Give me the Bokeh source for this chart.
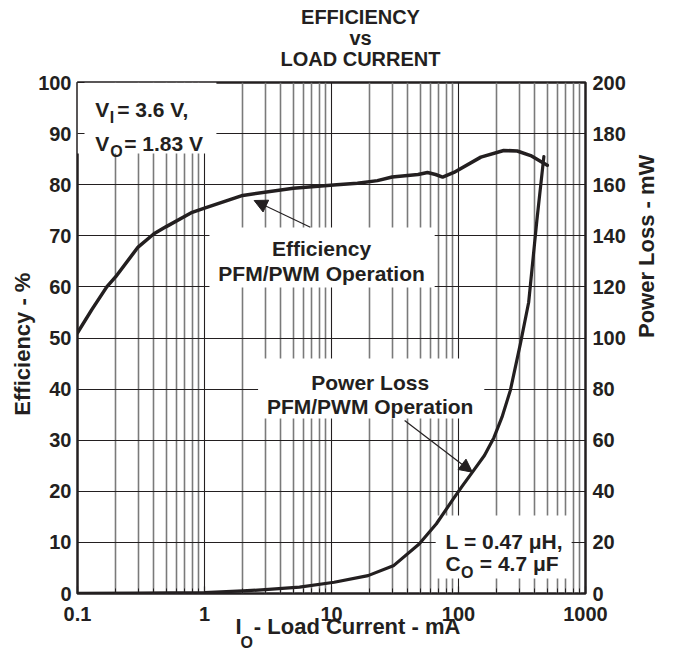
import math
from bokeh.plotting import figure
from bokeh.models import (Range1d, LinearAxis, FixedTicker, CustomJSTickFormatter,
                          Label, Arrow, NormalHead, Title)
from bokeh.embed import file_html
from bokeh.resources import INLINE

# ---------------- data ----------------
eff_current = [0.1, 0.13, 0.17, 0.2, 0.3, 0.4, 0.5, 0.8, 1.0, 2.0, 5.0, 11, 16, 23, 30, 48, 57, 66, 75, 92, 150, 227, 290, 370, 455, 500]
eff_pct = [51.0, 55.6, 60.0, 62.0, 67.8, 70.4, 71.8, 74.6, 75.4, 77.9, 79.3, 80.0, 80.3, 80.8, 81.5, 82.0, 82.4, 82.0, 81.5, 82.4, 85.4, 86.7, 86.6, 85.7, 84.4, 83.8]

pl_current = [0.1, 0.3, 1.0, 2.0, 3.0, 5.6, 10.5, 19.4, 31, 49, 67, 91, 107, 133, 160, 190, 220, 256, 307, 357, 414, 470]
pl_mw = [0.1, 0.2, 0.4, 1.0, 1.5, 2.5, 4.4, 7.0, 11.0, 19.4, 27.3, 37.0, 42.0, 48.5, 54.0, 61.0, 69.0, 79.5, 97.7, 114.0, 146.0, 171.0]

x_ticks = [0.1, 1, 10, 100, 1000]
x_minor = [m * d for d in x_ticks[:-1] for m in range(2, 10)]
eff_ticks = list(range(0, 101, 10))
pl_ticks = list(range(0, 201, 20))

title_lines = ["EFFICIENCY", "vs", "LOAD CURRENT"]
NB = "\u00a0"

# ---------------- layout (canvas px) ----------------
W, H = 674, 654
FL, FR, FT, FB = 77, 589, 82, 593
def X(px):
    return 10 ** ((px - FL) / ((FR - FL) / 4.0) - 1)
def Y(py):
    return (FB - py) / (FB - FT) * 100.0

INK = "#231f20"
FONT = "Liberation Sans"

p = figure(width=W, height=H, x_axis_type="log",
           x_range=Range1d(0.1, 1000), y_range=Range1d(0, 100),
           output_backend="svg", toolbar_location=None,
           min_border_left=FL, min_border_right=W - FR,
           min_border_top=FT, min_border_bottom=H - FB)
p.extra_y_ranges = {"pl": Range1d(0, 200)}
p.background_fill_color = "white"
p.border_fill_color = "white"
p.outline_line_color = INK
p.outline_line_width = 2.5

xt = FixedTicker(ticks=x_ticks, minor_ticks=x_minor)
fmt = CustomJSTickFormatter(code="return tick < 1 ? tick.toFixed(1) : tick.toFixed(0);")

def style_axis(ax, tin=7, standoff=6):
    ax.axis_line_color = None
    ax.major_tick_in = tin
    ax.major_tick_out = 0
    ax.minor_tick_in = 5
    ax.minor_tick_out = 0
    ax.major_tick_line_color = INK
    ax.minor_tick_line_color = INK
    ax.major_tick_line_width = 1.2
    ax.minor_tick_line_width = 1.0
    ax.major_label_text_font = FONT
    ax.major_label_text_font_style = "bold"
    ax.major_label_text_font_size = "20px"
    ax.major_label_text_color = INK
    ax.major_label_standoff = standoff
    ax.axis_label_text_font = FONT
    ax.axis_label_text_font_style = "bold"
    ax.axis_label_text_font_size = "22px"
    ax.axis_label_text_color = INK

xa = p.xaxis[0]
xa.ticker = xt
xa.formatter = fmt
style_axis(xa, standoff=13)

ya = p.yaxis[0]
ya.ticker = FixedTicker(ticks=eff_ticks)
style_axis(ya, tin=7, standoff=6)
ya.minor_tick_line_color = None
ya.axis_label = "Efficiency - %" + NB * 2
ya.axis_label_standoff = 0

ra = LinearAxis(y_range_name="pl", ticker=FixedTicker(ticks=pl_ticks))
style_axis(ra, tin=9, standoff=7)
ra.minor_tick_line_color = None
ra.axis_label = "Power Loss - mW"
ra.axis_label_orientation = math.pi / 2
ra.axis_label_standoff = 18
p.add_layout(ra, "right")

p.xgrid.grid_line_color = INK
p.xgrid.grid_line_width = 1.1
p.xgrid.minor_grid_line_color = "#7a7a7a"
p.xgrid.minor_grid_line_width = 1.6
p.ygrid.grid_line_color = INK
p.ygrid.grid_line_width = 1.1

def title(text, side, size, offset, standoff):
    p.add_layout(Title(text=text, align="left", offset=offset, vertical_align="bottom",
                       text_font=FONT, text_font_style="bold", text_font_size=size,
                       text_color=INK, standoff=standoff), side)

# chart title: a spacer row next to the frame, then three stacked rows (last added is outermost)
title_center = 360
char_w = {"EFFICIENCY": 5.945, "vs": 1.112, "LOAD CURRENT": 8.0}
title(NB, "above", "20px", 0, -10)
for txt in reversed(title_lines):
    w = char_w[txt] * 20
    title(txt, "above", "20px", title_center - w / 2 - FL, -3)

# x axis title with subscript O (two rows below the axis)
title("I" + NB * 2 + "- Load Current - mA", "below", "22px", 235 - FL, -23)
title("O", "below", "16px", 240 - FL, 8)

# white boxes behind annotation texts (hide grid)
boxes = [(FL, 217, FT, 153), (210, 437, 227, 287), (259, 487, 358, 418), (438, 575, 515, 578)]
p.quad(left=[X(b[0]) for b in boxes], right=[X(b[1]) for b in boxes],
       top=[Y(b[2]) for b in boxes], bottom=[Y(b[3]) for b in boxes],
       fill_color="white", line_color=None)

# curves
p.line(eff_current, eff_pct, line_color=INK, line_width=3.5, line_join="round", line_cap="round")
p.line(pl_current, pl_mw, y_range_name="pl", line_color=INK, line_width=3.2, line_join="round", line_cap="round")

def lab(px, py, text, size="21px", align="left"):
    p.add_layout(Label(x=X(px), y=Y(py), text=text, text_font=FONT, text_font_style="bold",
                       text_font_size=size, text_color=INK, text_align=align,
                       text_baseline="alphabetic"))

# condition boxes
lab(95, 109.3, "V")
lab(109.5, 117.0, "I", size="16px")
lab(117, 109.3, "= 3.6 V,")
lab(95, 143.3, "V")
lab(110, 150.5, "O", size="16px")
lab(124, 143.3, "= 1.83 V")

lab(448, 540.7, "L = 0.47 \u03bcH,")
lab(448, 563.3, "C")
lab(463.5, 571.5, "O", size="16px")
lab(482.5, 563.3, "= 4.7 \u03bcF")

lab(323, 248.3, "Efficiency", align="center")
lab(323, 273.3, "PFM/PWM Operation", align="center")
lab(372, 381.7, "Power Loss", align="center")
lab(372, 405.5, "PFM/PWM Operation", align="center")

# arrows
head = lambda: NormalHead(size=13, fill_color=INK, line_color=INK)
p.add_layout(Arrow(end=head(), x_start=X(311.7), y_start=Y(226.7), x_end=X(255), y_end=Y(200),
                   line_color=INK, line_width=1.2))
p.add_layout(Arrow(end=head(), x_start=X(406.7), y_start=Y(420), x_end=X(475), y_end=Y(471.7),
                   line_color=INK, line_width=1.2))

open("out.html", "w").write(file_html(p, INLINE))
